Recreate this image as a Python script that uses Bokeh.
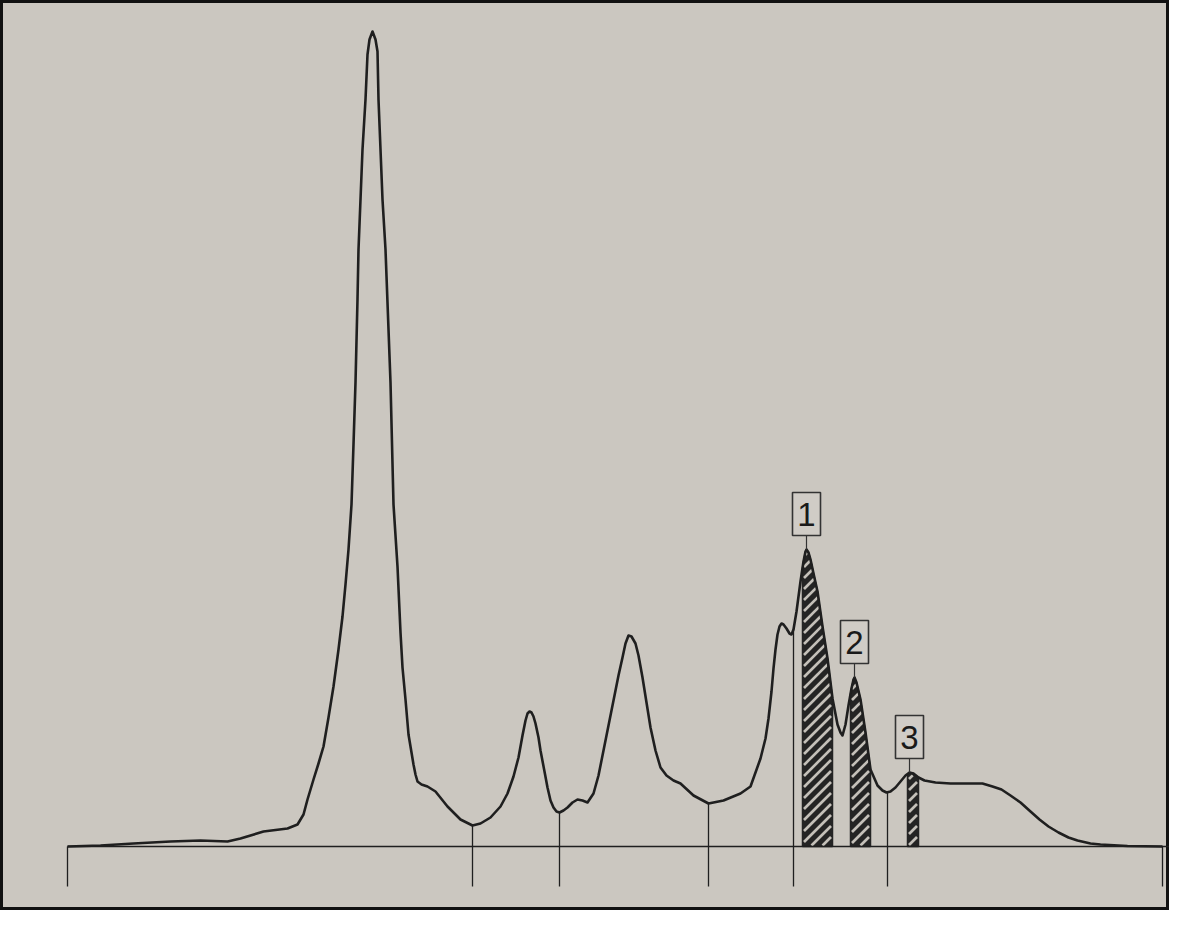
import numpy as np
from bokeh.plotting import figure
from bokeh.models import Range1d
from bokeh.embed import file_html
from bokeh.resources import INLINE
from bokeh.core.properties import value

# ---- densitometry trace (position along strip, signal height above baseline) ----
trace_x = [67, 100, 133, 170, 200, 227, 240, 263, 287, 297, 303, 307, 313, 318, 323,
           328, 333, 338, 342, 345, 348, 351, 353, 355, 357, 358, 360, 362, 365, 367,
           369, 372, 375, 377, 378, 380, 382, 385, 390, 393, 397, 400, 402, 405, 408,
           410, 413, 415, 417, 421, 427, 435, 447, 460, 472, 480, 490, 500, 507, 513,
           518, 522, 525, 527, 529, 531, 533, 535, 538, 540, 544, 547, 550, 553, 556,
           559, 563, 567, 572, 577, 582, 587, 593, 598, 603, 608, 613, 618, 622, 625,
           628, 631, 635, 638, 642, 646, 650, 655, 660, 666, 673, 680, 693, 708, 723,
           740, 750, 760, 765, 768, 771, 773, 775, 777, 779, 781, 783, 786, 789, 791,
           793, 796, 800, 803, 805, 806, 808, 810, 813, 817, 822, 827, 832, 837, 840,
           842, 845, 848, 851, 853, 854, 856, 860, 865, 870, 877, 882, 886, 890, 895,
           900, 905, 909, 913, 918, 924, 935, 950, 963, 982, 992, 1001, 1010, 1020, 1030,
           1039, 1048, 1058, 1068, 1077, 1090, 1100, 1127, 1162]
trace_y = [0, 1, 3, 5, 6, 5, 8, 15, 18, 22, 32, 47, 67, 83, 100,
           129, 160, 197, 230, 262, 297, 342, 402, 464, 547, 597, 647, 697, 747, 792,
           807, 815, 807, 795, 747, 697, 647, 597, 464, 342, 280, 214, 179, 147, 112,
           100, 82, 72, 65, 62, 60, 55, 40, 27, 21, 23, 29, 40, 53, 70,
           89, 111, 126, 133, 135, 134, 130, 123, 109, 96, 75, 59, 46, 39, 35,
           34, 36, 39, 44, 47, 46, 44, 53, 71, 96, 121, 146, 171, 189, 203,
           211, 210, 203, 191, 169, 144, 119, 96, 79, 71, 66, 63, 51, 43, 46,
           53, 60, 88, 108, 128, 155, 178, 197, 212, 220, 223, 222, 218, 213, 212,
           217, 235, 265, 285, 295, 297, 294, 287, 273, 255, 220, 188, 148, 122, 114,
           111, 122, 141, 158, 167, 169, 164, 147, 114, 77, 61, 56, 54, 55, 59,
           65, 71, 74, 73, 69, 66, 64, 63, 63, 63, 60, 57, 51, 44, 35,
           27, 20, 14, 9, 6, 3, 2, 0.5, 0]

# fraction boundaries drawn below the baseline
separator_x = [67, 472, 559, 708, 793, 887, 1162]
separator_bottom = -40

# hatched (marked) fractions
hatch_start = [802, 850, 907]
hatch_end = [832, 870, 918]

# numbered peak labels
peak_labels = ["1", "2", "3"]
peak_x = [806, 854, 909]

BG = "#cbc7c0"
INK = "#1f1f1f"

p = figure(width=1169, height=910, output_backend="svg", toolbar_location=None,
           x_range=Range1d(0, 1169), y_range=Range1d(-64, 846),
           x_axis_type=None, y_axis_type=None, min_border=0)
p.grid.visible = False
p.background_fill_color = BG
p.border_fill_color = BG
p.outline_line_color = "#111111"
p.outline_line_width = 5

tx = np.array(trace_x, dtype=float)
ty = np.array(trace_y, dtype=float)

# hatched areas under the curve: dark fill with light diagonal stripes
stripe_xs, stripe_ys = [], []
step = 11.0
for a, b in zip(hatch_start, hatch_end):
    inner = [(x, y) for x, y in zip(tx, ty) if a < x < b]
    xs = [a, a] + [q[0] for q in inner] + [b, b]
    ys = [0, float(np.interp(a, tx, ty))] + [q[1] for q in inner] + [float(np.interp(b, tx, ty)), 0]
    p.patch(xs, ys, fill_color="#242424", line_color="#242424", line_width=1.5)
    fx = np.linspace(a + 1.5, b - 1.5, 400)
    fc = np.interp(fx, tx, ty) - 2.0
    hmax = float(fc.max())
    c = -(b - a)
    while c < hmax:
        hl = (fx - a) + c
        inside = (hl >= 1.0) & (hl <= fc)
        idx = np.where(inside)[0]
        if len(idx) > 1:
            runs = np.split(idx, np.where(np.diff(idx) > 1)[0] + 1)
            for r in runs:
                if len(r) > 1:
                    stripe_xs.append([float(fx[r[0]]), float(fx[r[-1]])])
                    stripe_ys.append([float(hl[r[0]]), float(hl[r[-1]])])
        c += step
p.multi_line(stripe_xs, stripe_ys, line_color="#c4c0b9", line_width=2.6)

# baseline
p.segment(x0=[67], y0=[0], x1=[1185], y1=[0], line_color=INK, line_width=1.6)

# separators from the curve down below the baseline
sep_top = np.interp(separator_x, tx, ty)
p.segment(x0=separator_x, y0=list(sep_top), x1=separator_x,
          y1=[separator_bottom] * len(separator_x), line_color=INK, line_width=1.3)

# the trace
p.line(trace_x, trace_y, line_color=INK, line_width=2.6, line_join="round")

# peak labels
peak_h = np.interp(peak_x, tx, ty)
gap, bw, bh = 14, 28, 43
box_cy = [h + gap + bh / 2 for h in peak_h]
p.segment(x0=peak_x, y0=list(peak_h), x1=peak_x, y1=[h + gap for h in peak_h],
          line_color="#333333", line_width=1.2)
p.rect(x=peak_x, y=box_cy, width=bw, height=bh, fill_color="#d0ccc6",
       line_color="#333333", line_width=1.6)
p.text(x=peak_x, y=box_cy, text=peak_labels, text_align="center",
       text_baseline="middle", text_font=value("Liberation Sans"),
       text_font_size="33px", text_color="#1a1a1a")

open("out.html", "w").write(file_html(p, INLINE))
